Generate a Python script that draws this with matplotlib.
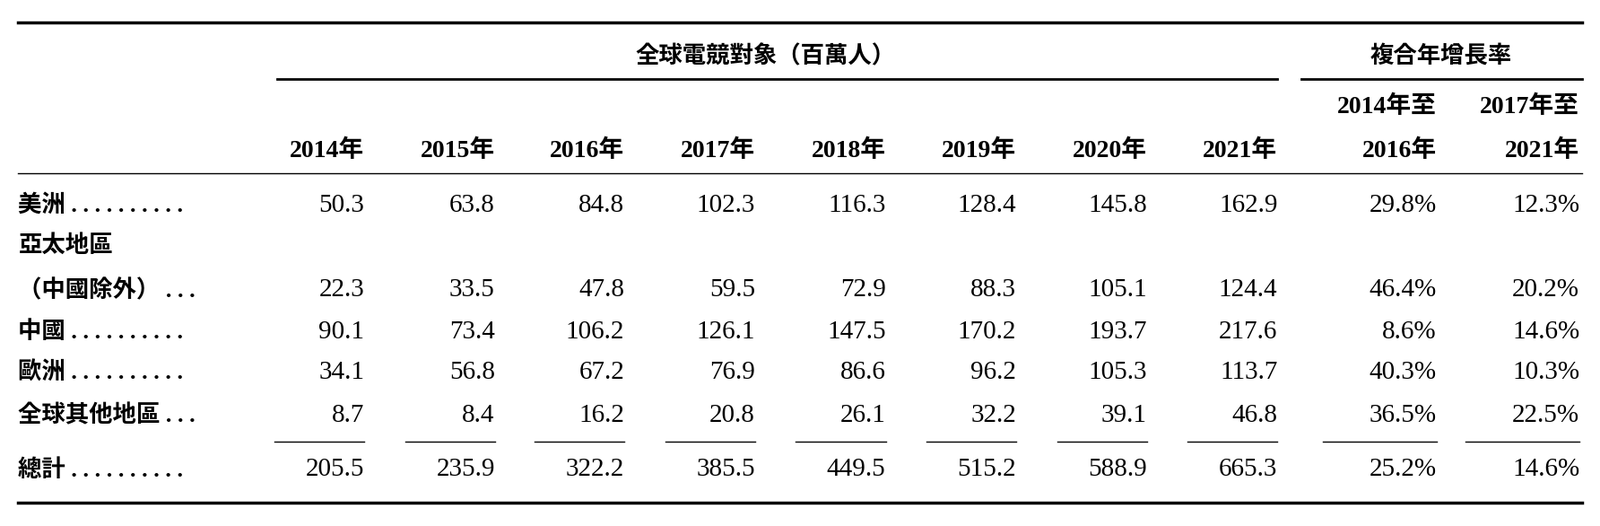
import matplotlib
matplotlib.use("Agg")
import matplotlib.pyplot as plt

years = ["2014年", "2015年", "2016年", "2017年", "2018年", "2019年", "2020年", "2021年"]
cagr_heads = [("2014年至", "2016年"), ("2017年至", "2021年")]
regions = ["美洲", "亞太地區\n（中國除外）", "中國", "歐洲", "全球其他地區"]
leaders = [" . . . . . . . . . .", " . . .", " . . . . . . . . . .", " . . . . . . . . . .", " . . ."]
values = [
    [50.3, 63.8, 84.8, 102.3, 116.3, 128.4, 145.8, 162.9],
    [22.3, 33.5, 47.8, 59.5, 72.9, 88.3, 105.1, 124.4],
    [90.1, 73.4, 106.2, 126.1, 147.5, 170.2, 193.7, 217.6],
    [34.1, 56.8, 67.2, 76.9, 86.6, 96.2, 105.3, 113.7],
    [8.7, 8.4, 16.2, 20.8, 26.1, 32.2, 39.1, 46.8],
]
cagr = [
    ["29.8%", "12.3%"], ["46.4%", "20.2%"], ["8.6%", "14.6%"], ["40.3%", "10.3%"], ["36.5%", "22.5%"],
]
total_label = "總計"
totals = [205.5, 235.9, 322.2, 385.5, 449.5, 515.2, 588.9, 665.3]
total_cagr = ["25.2%", "14.6%"]

W, H = 1568, 515
fig = plt.figure(figsize=(17.84, 5.86), dpi=100)
ax = fig.add_axes([0, 0, 1, 1])
ax.set_xlim(0, W); ax.set_ylim(H, 0); ax.axis("off")

cjk = ["Liberation Serif", "Noto Sans CJK TC", "Noto Sans CJK JP", "Noto Sans CJK SC"]
num = "Liberation Serif"
fs = 19
nfs = 21
col_x = [357, 485, 612, 740, 868, 996, 1124, 1252]
cagr_x = [1408, 1548]

ax.plot([18, 1550], [22, 22], color="black", lw=2.5)
ax.plot([18, 1550], [492, 492], color="black", lw=2.5)
ax.plot([18, 1550], [170, 170], color="black", lw=1)
ax.plot([272, 1252], [77, 77], color="black", lw=2)
ax.plot([1275, 1550], [77, 77], color="black", lw=2)
ax.text(750, 55, "全球電競對象（百萬人）", fontfamily=cjk, fontweight="bold", fontsize=fs, ha="center", va="center")
ax.text(1412, 55, "複合年增長率", fontfamily=cjk, fontweight="bold", fontsize=fs, ha="center", va="center")

def mixed(x, y, s):
    ax.text(x, y, s, fontfamily=cjk, fontweight="bold", fontsize=fs + 1, ha="right", va="center")

for x, yr in zip(col_x, years):
    mixed(x, 148, yr)
for x, (a, b) in zip(cagr_x, cagr_heads):
    mixed(x, 105, a); mixed(x, 148, b)

def label(y, s):
    ax.text(18, y, s, fontfamily=cjk, fontweight="bold", fontsize=fs, va="center")

row_y = [201, 284, 325, 365, 407]
for i, (r, y) in enumerate(zip(regions, row_y)):
    parts = r.split("\n")
    if len(parts) == 2:
        label(240, parts[0])
        lab = parts[1]
    else:
        lab = parts[0]
    label(y, lab + leaders[i])
    for x, v in zip(col_x, values[i]):
        ax.text(x, y, f"{v:.1f}", fontfamily=num, fontsize=nfs, ha="right", va="center")
    for x, v in zip(cagr_x, cagr[i]):
        ax.text(x, y, v, fontfamily=num, fontsize=nfs, ha="right", va="center")

for x in col_x:
    ax.plot([x - 88, x], [432, 432], color="black", lw=1)
for x in cagr_x:
    ax.plot([x - 112, x], [432, 432], color="black", lw=1)

label(460, total_label + " . . . . . . . . . .")
for x, v in zip(col_x, totals):
    ax.text(x, 460, f"{v:.1f}", fontfamily=num, fontsize=nfs, ha="right", va="center")
for x, v in zip(cagr_x, total_cagr):
    ax.text(x, 460, v, fontfamily=num, fontsize=nfs, ha="right", va="center")

fig.savefig("out.png", dpi=100, facecolor="white")
